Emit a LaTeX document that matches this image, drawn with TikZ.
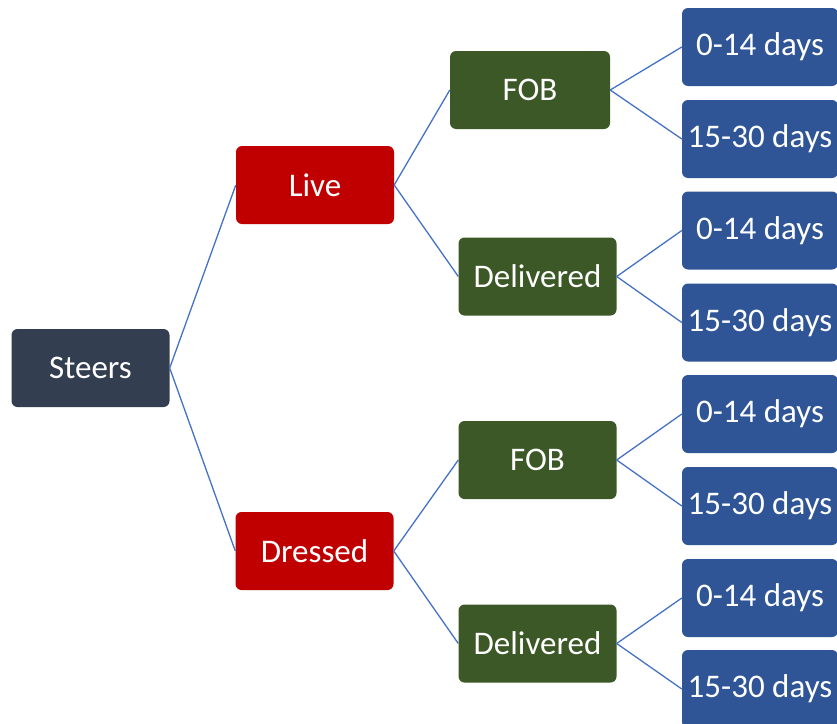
\documentclass[tikz,border=0pt]{standalone}
\usepackage{fontspec}
\setmainfont{Carlito}
\definecolor{steerc}{HTML}{333F50}
\definecolor{redc}{HTML}{C00000}
\definecolor{greenc}{HTML}{3B5826}
\definecolor{bluec}{HTML}{2F5597}
\definecolor{linec}{HTML}{4472C4}
\begin{document}
\begin{tikzpicture}[x=1pt,y=-1pt,
  boxbase/.style={rounded corners=6pt, text=white, inner sep=0pt,
    minimum width=158pt, minimum height=78pt,
    font=\fontsize{33}{40}\selectfont},
  rootbox/.style={boxbase, fill=steerc},
  formbox/.style={boxbase, fill=redc},
  termbox/.style={boxbase, fill=greenc},
  daybox/.style={boxbase, fill=bluec, minimum width=156pt},
  conn/.style={draw=linec, line width=1.3pt}]
\useasboundingbox (0,0) rectangle (837,723);
\node[rootbox] (steers) at (90.5,368) {Steers};
\node[formbox] (live) at (315,185) {Live};
\node[formbox] (dressed) at (314.5,551) {Dressed};
\node[termbox, minimum width=160pt] (fob1) at (530,90) {FOB};
\node[termbox] (del1) at (537.5,276.5) {Delivered};
\node[termbox] (fob2) at (537.5,460) {FOB};
\node[termbox] (del2) at (537.5,643.5) {Delivered};
\node[daybox] (d1) at (760,47) {0-14 days};
\node[daybox] (d2) at (760,139) {15-30 days};
\node[daybox] (d3) at (760,230.5) {0-14 days};
\node[daybox] (d4) at (760,322.5) {15-30 days};
\node[daybox] (d5) at (760,414) {0-14 days};
\node[daybox] (d6) at (760,506) {15-30 days};
\node[daybox] (d7) at (760,598) {0-14 days};
\node[daybox] (d8) at (760,689) {15-30 days};
\draw[conn] (steers.east) -- (live.west);
\draw[conn] (steers.east) -- (dressed.west);
\draw[conn] (live.east) -- (fob1.west);
\draw[conn] (live.east) -- (del1.west);
\draw[conn] (dressed.east) -- (fob2.west);
\draw[conn] (dressed.east) -- (del2.west);
\draw[conn] (fob1.east) -- (d1.west);
\draw[conn] (fob1.east) -- (d2.west);
\draw[conn] (del1.east) -- (d3.west);
\draw[conn] (del1.east) -- (d4.west);
\draw[conn] (fob2.east) -- (d5.west);
\draw[conn] (fob2.east) -- (d6.west);
\draw[conn] (del2.east) -- (d7.west);
\draw[conn] (del2.east) -- (d8.west);
\end{tikzpicture}
\end{document}
